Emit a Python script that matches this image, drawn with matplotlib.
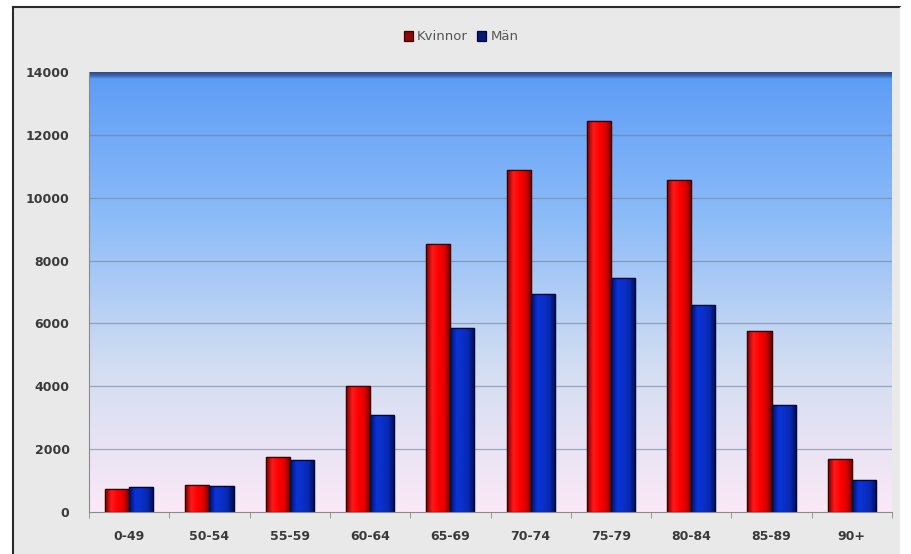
import numpy as np
import matplotlib
matplotlib.use("Agg")
import matplotlib.pyplot as plt
from matplotlib.patches import Rectangle
from matplotlib.colors import LinearSegmentedColormap

# age groups and counts
groups = ["0-49", "50-54", "55-59", "60-64", "65-69", "70-74", "75-79", "80-84", "85-89", "90+"]
kvinnor = [730, 860, 1740, 4000, 8540, 10890, 12450, 10560, 5750, 1680]
man = [790, 830, 1640, 3080, 5870, 6950, 7430, 6600, 3400, 1020]

fig = plt.figure(figsize=(9.11, 5.54), dpi=100, facecolor="white")

# outer chart frame (grey panel, dark edge top/left)
frame = Rectangle((13/911, 0), (900-13)/911, (554-7)/554, transform=fig.transFigure,
                  facecolor="#e9e9e9", edgecolor="none", zorder=-5)
fig.patches.append(frame)
fig.add_artist(plt.Line2D([13/911, 13/911], [0, 1-7/554], color="#2a2a2a", lw=1.5,
                          transform=fig.transFigure, zorder=-4))
fig.add_artist(plt.Line2D([13/911, 900/911], [1-7/554, 1-7/554], color="#2a2a2a", lw=1.5,
                          transform=fig.transFigure, zorder=-4))
fig.add_artist(plt.Line2D([900/911, 900/911], [0, 1-7/554], color="#fafafa", lw=1,
                          transform=fig.transFigure, zorder=-4))

ax = fig.add_axes([89/911, 42/554, (892-89)/911, (512-72)/554])
ax.set_facecolor("none")

x = np.arange(len(groups))
w = 0.3

# background gradient: blue at top, pale pink at bottom
bg = LinearSegmentedColormap.from_list("bg", ["#fbe9f6", "#d2ddf2", "#8dbcf8", "#5c9cf6"])
grad = np.linspace(0, 1, 256).reshape(-1, 1)
ax.imshow(grad, cmap=bg, aspect="auto", origin="lower",
          extent=(-0.5, len(groups) - 0.5, 0, 14000), zorder=0)
# darker strip along top
top = LinearSegmentedColormap.from_list("top", ["#5c9cf6", "#3b62a8", "#2c4c8c"])
ax.imshow(np.linspace(0, 1, 16).reshape(-1, 1), cmap=top, aspect="auto", origin="lower",
          extent=(-0.5, len(groups) - 0.5, 13780, 14000), zorder=0.5)

for v in range(2000, 14000, 2000):
    ax.axhline(v, color="#6f7f95", lw=0.9, alpha=0.6, zorder=1)

red = LinearSegmentedColormap.from_list("r", ["#7a0000", "#ff1a1a", "#ff0000", "#e00000", "#6a0000"])
blue = LinearSegmentedColormap.from_list("b", ["#00105e", "#0a32d8", "#0a30c8", "#0828b0", "#000c50"])
hgrad = np.linspace(0, 1, 64).reshape(1, -1)

bk = ax.bar(x - w/2, kvinnor, w, color="#ff0000", edgecolor="#3a0000", lw=0.9, zorder=2, label="Kvinnor")
bm = ax.bar(x + w/2, man, w, color="#0a2fc8", edgecolor="#00083a", lw=0.9, zorder=2, label="Män")
for bars, cm in ((bk, red), (bm, blue)):
    for b in bars:
        x0, y0 = b.get_x(), b.get_y()
        im = ax.imshow(hgrad, cmap=cm, aspect="auto",
                       extent=(x0, x0 + b.get_width(), y0, y0 + b.get_height()), zorder=2.1)
        im.set_clip_path(b)
        ax.add_patch(Rectangle((x0, y0), b.get_width(), b.get_height(), fill=False,
                               edgecolor=b.get_edgecolor(), lw=0.9, zorder=2.2))
ax.set_xlim(-0.5, len(groups) - 0.5)
ax.set_ylim(0, 14000)

ax.set_yticks(range(0, 14001, 2000))
ax.set_xticks(x)
ax.set_xticklabels(groups)
ax.set_xticks(np.arange(-0.5, len(groups), 1), minor=True)
ax.tick_params(axis="x", which="major", length=0, pad=13)
ax.tick_params(axis="x", which="minor", length=4, color="#888888", direction="out")
ax.tick_params(axis="y", length=0, pad=14)
for lab in ax.get_xticklabels() + ax.get_yticklabels():
    lab.set_fontsize(9)
    lab.set_fontweight("bold")
    lab.set_color("#3a3a3a")

for s in ("top", "right"):
    ax.spines[s].set_visible(False)
ax.spines["left"].set_color("#8a8a8a")
ax.spines["bottom"].set_color("#8a8a8a")

leg = fig.legend(handles=[bk, bm], labels=["Kvinnor", "Män"], loc="center",
                 bbox_to_anchor=(461/911, 1 - 37/554), ncol=2, frameon=False,
                 fontsize=9.5, handlelength=0.7, handleheight=0.7, handletextpad=0.3,
                 columnspacing=0.7)
for t in leg.get_texts():
    t.set_color("#555555")
leg.legend_handles[0].set_facecolor("#8a0a0a")
leg.legend_handles[1].set_facecolor("#0a1a70")

fig.savefig("out.png", dpi=100, facecolor=fig.get_facecolor())
